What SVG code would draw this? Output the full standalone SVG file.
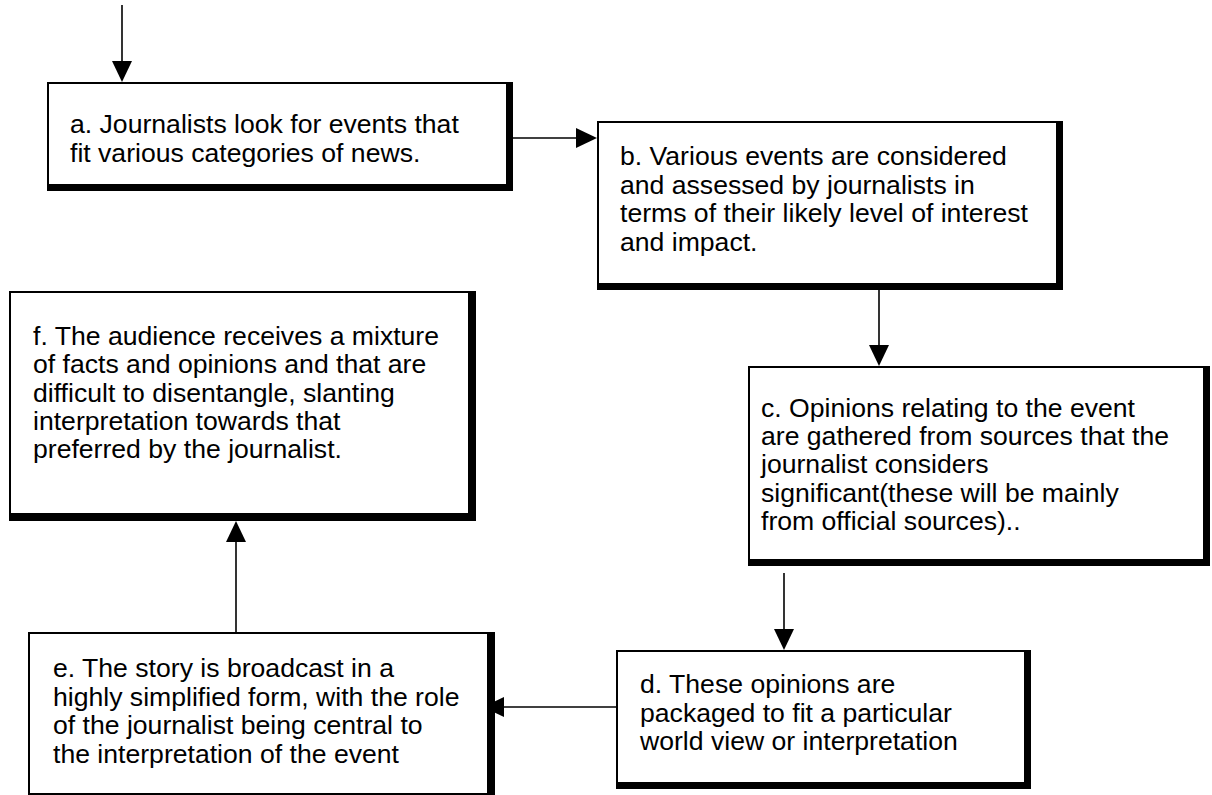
<svg xmlns="http://www.w3.org/2000/svg" width="1212" height="795" viewBox="0 0 1212 795">
<defs>
<marker id="ah" markerUnits="userSpaceOnUse" markerWidth="21" markerHeight="20" refX="19" refY="10" orient="auto">
<path d="M0,0 L21,10 L0,20 Z" fill="#000"/>
</marker>
<style>
.sh{fill:#000}
.in{fill:#fff}
.t{font-family:"Liberation Sans",Arial,sans-serif;font-size:26.6px;fill:#000}
.c{stroke:#000;stroke-width:1.6;fill:none;marker-end:url(#ah)}
</style>
</defs>
<rect x="0" y="0" width="1212" height="795" fill="#fff"/>
<g id="connectors">
<line class="c" x1="122" y1="5" x2="122" y2="80"/>
<line class="c" x1="513" y1="138" x2="595" y2="138"/>
<line class="c" x1="879" y1="290" x2="879" y2="364"/>
<line class="c" x1="784" y1="573" x2="784" y2="648"/>
<line class="c" x1="616" y1="707" x2="485" y2="707"/>
<line class="c" x1="236" y1="632" x2="236" y2="523"/>
</g>
<g id="node-a">
<rect class="sh" x="47" y="82" width="466" height="109"/>
<rect class="in" x="49" y="84" width="457" height="100"/>
<text class="t" x="70" y="133">a. Journalists look for events that</text>
<text class="t" x="70" y="162">fit various categories of news.</text>
</g>
<g id="node-b">
<rect class="sh" x="597" y="121" width="466" height="169"/>
<rect class="in" x="599" y="123" width="457" height="160"/>
<text class="t" x="620" y="165">b. Various events are considered</text>
<text class="t" x="620" y="194">and assessed by journalists in</text>
<text class="t" x="620" y="222">terms of their likely level of interest</text>
<text class="t" x="620" y="251">and impact.</text>
</g>
<g id="node-c">
<rect class="sh" x="748" y="366" width="462" height="200"/>
<rect class="in" x="750" y="368" width="453" height="191"/>
<text class="t" x="761" y="417">c. Opinions relating to the event</text>
<text class="t" x="761" y="445">are gathered from sources that the</text>
<text class="t" x="761" y="473">journalist considers</text>
<text class="t" x="761" y="502">significant(these will be mainly</text>
<text class="t" x="761" y="530">from official sources)..</text>
</g>
<g id="node-d">
<rect class="sh" x="616" y="650" width="415" height="139"/>
<rect class="in" x="618" y="652" width="406" height="130"/>
<text class="t" x="640" y="693">d. These opinions are</text>
<text class="t" x="640" y="722">packaged to fit a particular</text>
<text class="t" x="640" y="750">world view or interpretation</text>
</g>
<g id="node-e">
<rect class="sh" x="28" y="632" width="467" height="168"/>
<rect class="in" x="30" y="634" width="457" height="159"/>
<text class="t" x="53" y="677">e. The story is broadcast in a</text>
<text class="t" x="53" y="706">highly simplified form, with the role</text>
<text class="t" x="53" y="734">of the journalist being central to</text>
<text class="t" x="53" y="763">the interpretation of the event</text>
</g>
<g id="node-f">
<rect class="sh" x="9" y="291" width="467" height="230"/>
<rect class="in" x="11" y="293" width="457" height="220"/>
<text class="t" x="33" y="345">f. The audience receives a mixture</text>
<text class="t" x="33" y="373">of facts and opinions and that are</text>
<text class="t" x="33" y="402">difficult to disentangle, slanting</text>
<text class="t" x="33" y="430">interpretation towards that</text>
<text class="t" x="33" y="458">preferred by the journalist.</text>
</g>
</svg>
